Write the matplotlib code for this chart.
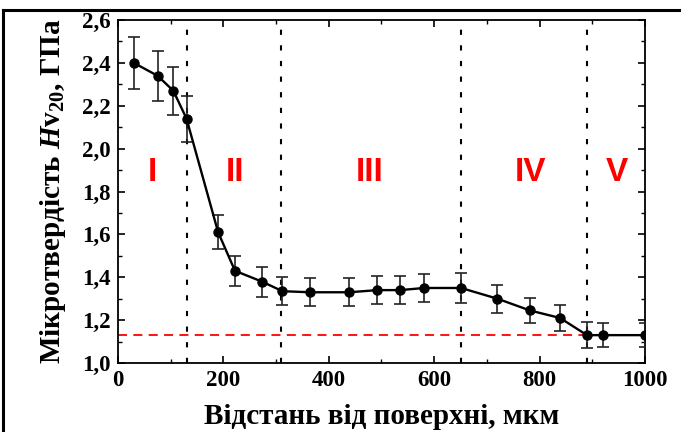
import matplotlib
matplotlib.use("Agg")
import matplotlib.pyplot as plt
from matplotlib.lines import Line2D
from matplotlib.ticker import MultipleLocator, FuncFormatter

plt.rcParams['font.family'] = ['Liberation Serif', 'DejaVu Serif']
plt.rcParams['font.weight'] = 'bold'
plt.rcParams['mathtext.fontset'] = 'custom'
plt.rcParams['mathtext.rm'] = 'Liberation Serif:bold'
plt.rcParams['mathtext.it'] = 'Liberation Serif:italic:bold'
plt.rcParams['mathtext.bf'] = 'Liberation Serif:bold'

# data
depth = [30, 75, 105, 130, 190, 222, 273, 312, 365, 439, 492, 535, 581, 651,
         720, 782, 839, 890, 920, 1000]
hv = [2.40, 2.34, 2.27, 2.14, 1.61, 1.43, 1.38, 1.335, 1.33, 1.33, 1.34, 1.34,
      1.35, 1.35, 1.30, 1.245, 1.21, 1.13, 1.13, 1.13]
err = [0.12, 0.117, 0.113, 0.107, 0.08, 0.07, 0.07, 0.065, 0.065, 0.065, 0.065,
       0.065, 0.065, 0.07, 0.065, 0.06, 0.06, 0.06, 0.055, 0.055]
zone_bounds = [130, 310, 651, 890]
zone_labels = ['I', 'II', 'III', 'IV', 'V']
zone_label_x = [66, 222, 478, 782, 947]
zone_label_y = 1.89
base_level = 1.13

fig = plt.figure(figsize=(6.81, 4.32), dpi=100)
ax = fig.add_axes([0.1733, 0.1597, 0.7737, 0.794])

ax.axhline(base_level, color='red', lw=1.3, dashes=(5, 3.5), zorder=1)
for xb in zone_bounds:
    ax.axvline(xb, color='black', lw=1.5, dashes=(2.5, 5), zorder=1)

ax.errorbar(depth, hv, yerr=err, fmt='o-', color='black', ms=6.5, lw=1.7,
            elinewidth=1.2, capsize=4.5, capthick=1.2, ecolor='#222222', zorder=3)

for lab, xl in zip(zone_labels, zone_label_x):
    ax.text(xl, zone_label_y, lab, color='red', ha='center', va='center',
            fontsize=24, fontweight='bold', family='Liberation Sans')

ax.set_xlim(0, 1000)
ax.set_ylim(1.0, 2.6)
ax.xaxis.set_major_locator(MultipleLocator(200))
ax.xaxis.set_minor_locator(MultipleLocator(100))
ax.yaxis.set_major_locator(MultipleLocator(0.2))
ax.yaxis.set_minor_locator(MultipleLocator(0.1))
ax.yaxis.set_major_formatter(FuncFormatter(lambda v, p: f"{v:.1f}".replace('.', ',')))
ax.tick_params(which='both', direction='in', top=True, right=True, labelsize=16.5)
ax.tick_params(which='major', length=5, width=1.2, pad=5)
ax.tick_params(which='minor', length=3, width=1.0)
for s in ax.spines.values():
    s.set_linewidth(1.3)

ax.set_xlabel('Відстань від поверхні, мкм', fontsize=21, fontweight='bold', labelpad=9)
ax.set_ylabel(r'Мікротвердість $\mathit{H}\mathrm{v}_{\mathrm{20}}$, ГПа',
              fontsize=21, fontweight='bold', labelpad=10)

# figure border lines (top and left)
W, H = 681, 432
fig.add_artist(Line2D([3 / W, 1], [1 - 10 / H, 1 - 10 / H], color='black', lw=2.2,
                      transform=fig.transFigure))
fig.add_artist(Line2D([3 / W, 3 / W], [0, 1 - 10 / H], color='black', lw=2.2,
                      transform=fig.transFigure))

fig.savefig('out.png', dpi=100)
